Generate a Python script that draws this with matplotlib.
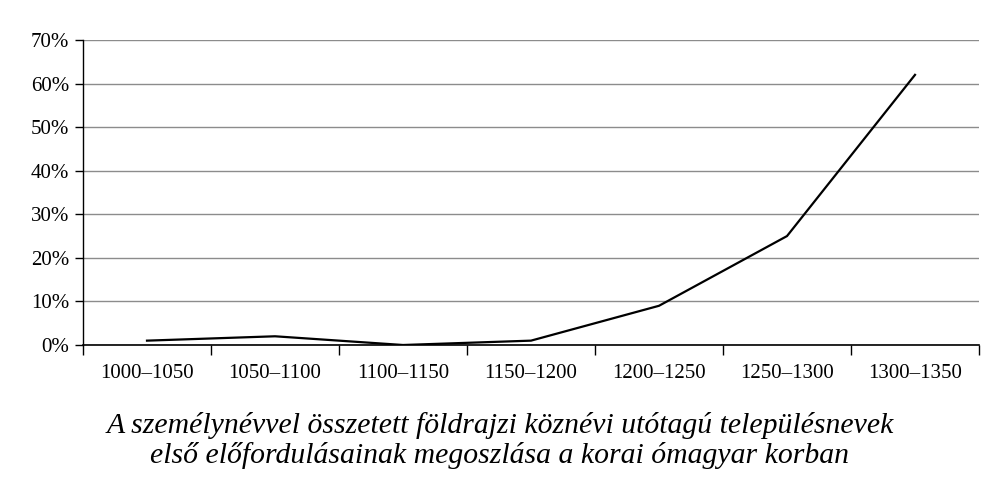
import matplotlib
matplotlib.use("Agg")
import matplotlib.pyplot as plt
from matplotlib.ticker import FuncFormatter

categories = ["1000–1050", "1050–1100", "1100–1150", "1150–1200",
              "1200–1250", "1250–1300", "1300–1350"]
values = [1, 2, 0, 1, 9, 25, 62]
yticks = [0, 10, 20, 30, 40, 50, 60, 70]
title_lines = ["A személynévvel összetett földrajzi köznévi utótagú településnevek",
               "első előfordulásainak megoszlása a korai ómagyar korban"]

plt.rcParams['font.family'] = ['Liberation Serif', 'DejaVu Serif']

fig = plt.figure(figsize=(10, 4.96), dpi=100)
ax = fig.add_axes([0.083, 1 - 345 / 496, 0.896, 305 / 496])

x = list(range(len(categories)))
ax.plot(x, values, color='black', lw=1.6, solid_joinstyle='miter')

ax.set_xlim(-0.5, len(categories) - 0.5)
ax.set_ylim(0, 70)
ax.set_yticks(yticks)
ax.yaxis.set_major_formatter(FuncFormatter(lambda v, p: f"{int(v)}%"))
ax.set_xticks(x)
ax.set_xticklabels(categories)
ax.set_xticks([i - 0.5 for i in range(len(categories) + 1)], minor=True)
ax.tick_params(axis='x', which='major', length=0, pad=14, labelsize=15)
ax.tick_params(axis='x', which='minor', length=7, width=1, color='black', direction='out')
ax.tick_params(axis='y', length=6, width=1, color='black', labelsize=15, pad=4)

ax.grid(axis='y', color='#8c8c8c', lw=1)
ax.set_axisbelow(True)
for s in ['top', 'right']:
    ax.spines[s].set_visible(False)
ax.spines['left'].set_color('black')
ax.spines['bottom'].set_color('black')
ax.spines['left'].set_linewidth(1)
ax.spines['bottom'].set_linewidth(1.2)

fig.text(0.5, 1 - 433 / 496, title_lines[0], ha='center', va='baseline',
         fontsize=21.4, style='italic')
fig.text(0.5, 1 - 463 / 496, title_lines[1], ha='center', va='baseline',
         fontsize=21.4, style='italic')

fig.savefig("out.png", dpi=100, facecolor='white')
